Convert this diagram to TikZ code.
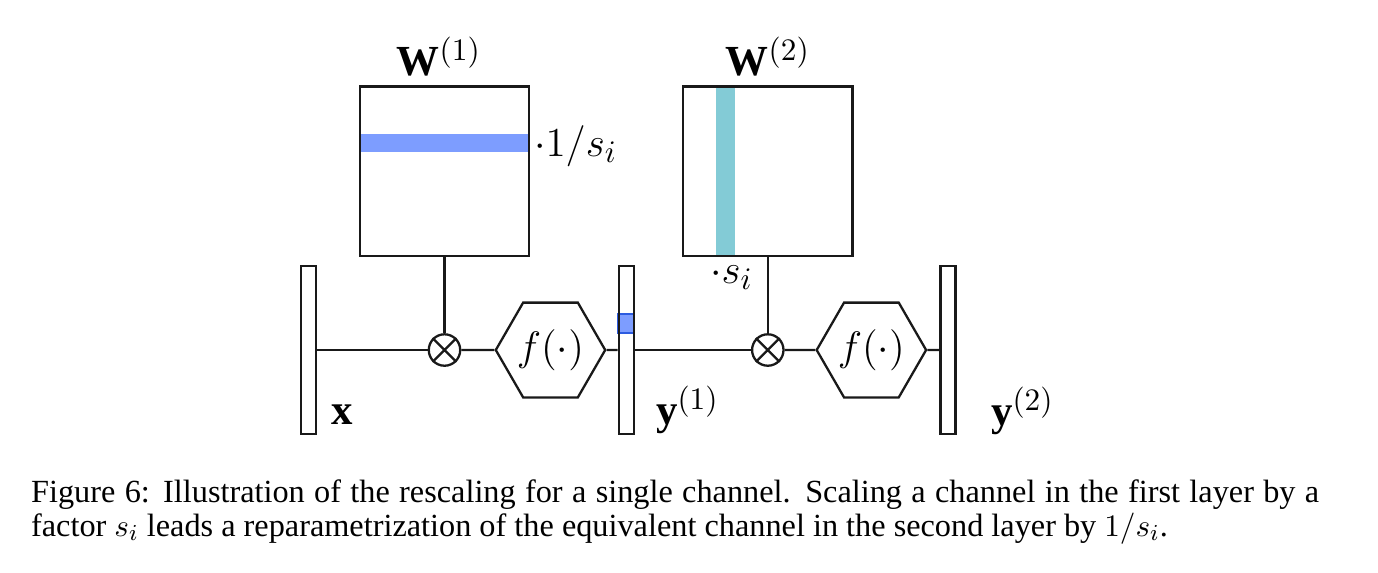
\documentclass[tikz,border=0pt]{standalone}
\usepackage{amssymb}
\usepackage{fontspec}
\setmainfont{Liberation Serif}
\usetikzlibrary{shapes.geometric}

\definecolor{rowblue}{HTML}{7D9DFF}
\definecolor{rowedge}{HTML}{2C5BE0}
\definecolor{colteal}{HTML}{83CBD6}

\begin{document}
\begin{tikzpicture}[x=0.35pt,y=-0.35pt,
		line width=0.8pt, every node/.style={inner sep=0pt},
		vecbar/.style={draw=black!90, minimum width=5.3pt, minimum height=58.8pt},
		matbox/.style={draw=black!90, minimum size=59.2pt},
		mult/.style={draw=black!90, circle, minimum size=11pt},
		act/.style={draw=black!90, regular polygon, regular polygon sides=6, minimum size=34.5pt},
		lbl/.style={font=\fontsize{15}{18}\selectfont, anchor=base west}]
		\useasboundingbox (0,0) rectangle (1378,572);
		
		% stripes of the weights and the entry of y^(1)
		\fill[rowblue] (360,134) rectangle (529,152.3);
		\fill[colteal] (716,86.7) rectangle (734.5,255.7);
		\filldraw[fill=rowblue, draw=rowedge, line width=0.6pt] (618.3,314.3) rectangle (634.3,332.7);
		
		% vectors
		\node[vecbar] (xbar) at (308.5,350) {};
		\node[vecbar] (yonebar) at (626.3,350) {};
		\node[vecbar] (ytwobar) at (948,350) {};
		
		% weights
		\node[matbox] (Wone) at (444.5,171.2) {};
		\node[matbox] (Wtwo) at (767.8,171.2) {};
		
		% products and activations
		\node[mult] (mone) at (444.5,350) {};
		\node[mult] (mtwo) at (767.8,350) {};
		\draw[black!90] (mone.north west)--(mone.south east) (mone.north east)--(mone.south west);
		\draw[black!90] (mtwo.north west)--(mtwo.south east) (mtwo.north east)--(mtwo.south west);
		\node[act, font=\fontsize{14.4}{17}\selectfont] (fone) at (550.5,350) {$f(\cdot)$};
		\node[act, font=\fontsize{14.4}{17}\selectfont] (ftwo) at (871.4,350) {$f(\cdot)$};
		
		\draw[black!90] (xbar)--(mone);
		\draw[black!90] (mone)--(fone);
		\draw[black!90] (fone)--(yonebar);
		\draw[black!90] (yonebar)--(mtwo);
		\draw[black!90] (mtwo)--(ftwo);
		\draw[black!90] (ftwo)--(ytwobar);
		\draw[black!90] (Wone)--(mone);
		\draw[black!90] (Wtwo)--(mtwo);
		
		% labels
		\node[lbl, anchor=base] (Wonelbl) at (439,75) {$\mathbf{W}^{(1)}$};
		\node[lbl, anchor=base] (Wtwolbl) at (768,75) {$\mathbf{W}^{(2)}$};
		\node[lbl] (rowlbl) at (533,156) {$\cdot 1/s_i$};
		\node[lbl] (collbl) at (709,283) {$\cdot s_i$};
		\node[lbl] (xlbl) at (330,424) {$\mathbf{x}$};
		\node[lbl] (yonelbl) at (655,424) {$\mathbf{y}^{(1)}$};
		\node[lbl] (ytwolbl) at (990,425) {$\mathbf{y}^{(2)}$};
		
		% caption
		\node[anchor=base west, align=justify, text width=450.8pt, font=\fontsize{11.3}{11.9}\selectfont] (caption) at (30,502) {Figure 6: Illustration of the rescaling for a single channel. Scaling a channel in the first layer by a factor $s_i$ leads a reparametrization of the equivalent channel in the second layer by $1/s_i$.};
	\end{tikzpicture}
\end{document}
